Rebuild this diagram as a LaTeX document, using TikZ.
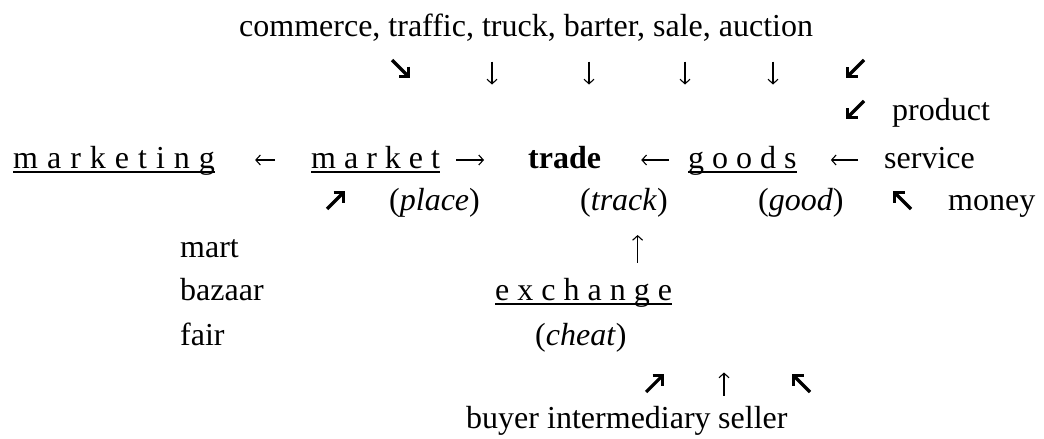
\documentclass[tikz,border=0pt]{standalone}
\usepackage{fontspec}
\setmainfont{Liberation Serif}
\usetikzlibrary{arrows.meta}

\tikzset{
  word/.style={anchor=base west, inner sep=0pt, font=\fontsize{32pt}{38pt}\selectfont},
  uline/.style={line width=1.6pt},
  tharr/.style={line width=1.1pt, -{Straight Barb[length=4.5pt,width=10pt]}},
  dgarr/.style={line width=3.2pt, line join=miter, -{Straight Barb[length=7pt,width=14pt]}},
  searrow/.pic={\draw[dgarr] (-9,9) -- (9,-9);},
  dnarrow/.pic={\draw[tharr] (0,11.5) -- (0,-11.5);},
}

\begin{document}
\begin{tikzpicture}[x=1pt,y=1pt]
  \useasboundingbox (0,0) rectangle (1044,-439);

  % words
  \node[word] (deals) at (239,-36) {commerce, traffic, truck, barter, sale, auction};
  \node[word] (prod) at (892,-120) {product};
  \node[word] (mkg) at (13,-168) {\spaceskip=9pt m a r k e t i n g};
  \node[word] (mkt) at (311,-168) {m a r k e t};
  \node[word] (trade) at (528,-168) {\bfseries trade};
  \node[word] (goods) at (688,-168) {g o o d s};
  \node[word] (serv) at (884,-168) {service};
  \node[word] (place) at (389,-210) {(\textit{place})};
  \node[word] (track) at (580,-210) {(\textit{track})};
  \node[word] (good) at (758,-210) {(\textit{good})};
  \node[word] (money) at (948,-210) {money};
  \node[word] (mart) at (180,-257) {mart};
  \node[word] (bazaar) at (180,-300) {bazaar};
  \node[word] (fair) at (180,-345) {fair};
  \node[word] (exch) at (495,-300) {e x c h a n g e};
  \node[word] (cheat) at (535,-345) {(\textit{cheat})};
  \node[word] (buyer) at (466,-428) {buyer};
  \node[word] (inter) at (547,-428) {intermediary};
  \node[word] (seller) at (718,-428) {seller};

  % underlines
  \foreach \w in {mkg,mkt,goods,exch}
    \draw[uline] ([yshift=-4pt]\w.base west) -- ([yshift=-4pt]\w.base east);

  % arrows in the main line
  \draw[tharr, shorten <=36pt, shorten >=40pt] ([yshift=8pt]mkt.base west) -- ([yshift=8pt]mkg.base east);
  \draw[tharr, shorten <=16pt, shorten >=44pt] ([yshift=8pt]mkt.base east) -- ([yshift=8pt]trade.base west);
  \draw[tharr, shorten <=19pt, shorten >=40pt] ([yshift=8pt]goods.base west) -- ([yshift=8pt]trade.base east);
  \draw[tharr, shorten <=26pt, shorten >=34pt] ([yshift=8pt]serv.base west) -- ([yshift=8pt]goods.base east);
  \draw[tharr, shorten <=15pt, shorten >=18pt] ([xshift=54pt]exch.north) -- ([xshift=54pt]exch.north |- track.south);

  % loose arrows
  \pic at (401,-69) {searrow};
  \foreach \x in {492,589,685,773}
    \pic at (\x,-73) {dnarrow};
  \pic[rotate=-90] at (855,-69) {searrow};
  \pic[rotate=-90] at (855,-110) {searrow};
  \pic[rotate=90] at (336,-200) {searrow};
  \pic[rotate=180] at (902,-200) {searrow};
  \pic[rotate=90] at (655,-383) {searrow};
  \pic[rotate=180] at (724,-384) {dnarrow};
  \pic[rotate=180] at (801,-383) {searrow};
\end{tikzpicture}
\end{document}
